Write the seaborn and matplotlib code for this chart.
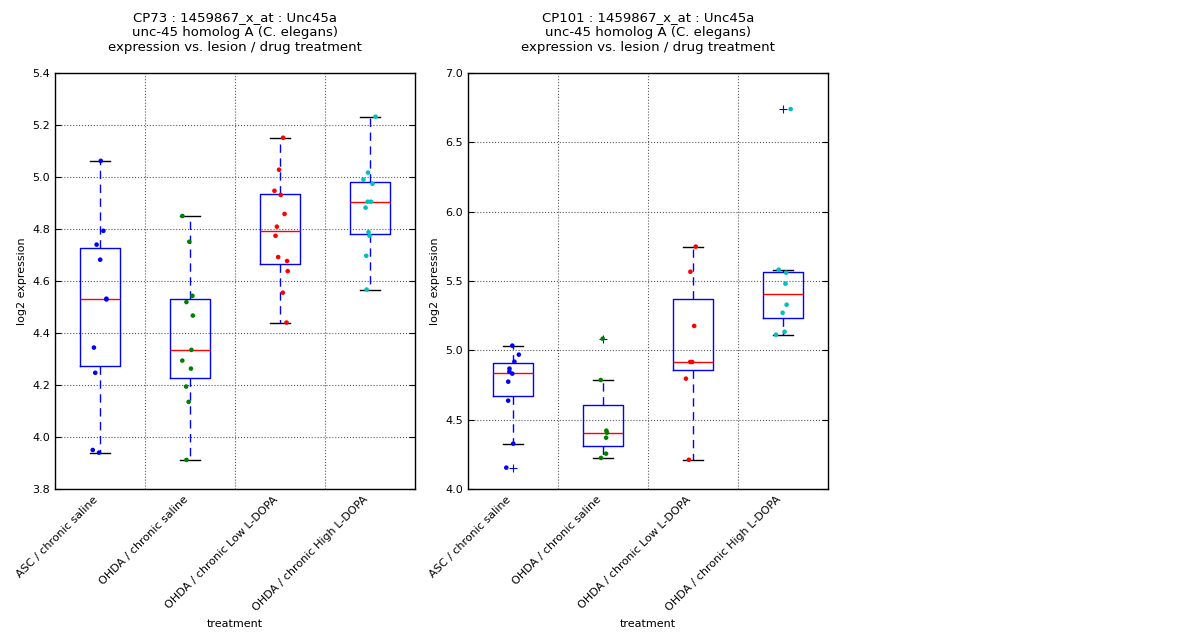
import numpy as np
import pandas as pd
import matplotlib
matplotlib.use('Agg')
import matplotlib.pyplot as plt
import seaborn as sns

GROUPS = ['ASC / chronic saline', 'OHDA / chronic saline',
          'OHDA / chronic Low L-DOPA', 'OHDA / chronic High L-DOPA']
COLORS = ['blue', 'green', 'red', (0.0, 0.75, 0.75)]

# CP73 values (log2 expression)
cp73_asc = [5.062, 4.793, 4.740, 4.682, 4.532, 4.529, 4.344, 4.247, 3.950, 3.940]
cp73_sal = [4.850, 4.751, 4.543, 4.519, 4.467, 4.335, 4.294, 4.263, 4.194, 4.135, 3.912]
cp73_low = [5.151, 5.028, 4.947, 4.931, 4.858, 4.809, 4.774, 4.692, 4.677, 4.638, 4.555, 4.440]
cp73_high = [5.232, 5.017, 4.990, 4.974, 4.905, 4.905, 4.882, 4.788, 4.774, 4.697, 4.567]

# CP101 values
cp101_asc = [5.034, 4.969, 4.918, 4.868, 4.846, 4.832, 4.774, 4.637, 4.327, 4.154]
cp101_sal = [5.084, 4.786, 4.421, 4.406, 4.370, 4.255, 4.224]
cp101_low = [5.748, 5.567, 5.176, 4.916, 4.916, 4.796, 4.211]
cp101_high = [6.740, 5.582, 5.560, 5.481, 5.329, 5.271, 5.134, 5.113]

PANELS = [
    ('CP73 : 1459867_x_at : Unc45a\nunc-45 homolog A (C. elegans)\n'
     'expression vs. lesion / drug treatment',
     [cp73_asc, cp73_sal, cp73_low, cp73_high],
     (3.8, 5.4), np.arange(3.8, 5.41, 0.2), '%.1f'),
    ('CP101 : 1459867_x_at : Unc45a\nunc-45 homolog A (C. elegans)\n'
     'expression vs. lesion / drug treatment',
     [cp101_asc, cp101_sal, cp101_low, cp101_high],
     (4.0, 7.0), np.arange(4.0, 7.01, 0.5), '%.1f'),
]


def to_frame(series):
    rows = []
    for grp, vals in zip(GROUPS, series):
        for v in vals:
            rows.append((grp, v))
    return pd.DataFrame(rows, columns=['treatment', 'log2 expression'])


np.random.seed(3)
fig = plt.figure(figsize=(12, 6.4), dpi=100)
lefts = [55 / 1200, 468 / 1200]

for left, (title, series, ylim, yticks, fmt) in zip(lefts, PANELS):
    ax = fig.add_axes([left, 1 - 489 / 640, 360 / 1200, 416 / 640])
    df = to_frame(series)

    sns.boxplot(data=df, x='treatment', y='log2 expression', order=GROUPS,
                ax=ax, fill=False, width=0.45, color='blue', linecolor='blue',
                linewidth=1, whis=1.5,
                boxprops={'color': 'blue', 'linewidth': 1},
                medianprops={'color': 'red', 'linewidth': 1},
                whiskerprops={'color': 'blue', 'linestyle': (0, (6, 4)),
                              'linewidth': 1},
                capprops={'color': 'black', 'linewidth': 1},
                flierprops={'marker': '+', 'color': 'blue',
                            'markeredgecolor': 'blue',
                            'markerfacecolor': 'none', 'markersize': 6,
                            'markeredgewidth': 0.8})
    sns.stripplot(data=df, x='treatment', y='log2 expression', order=GROUPS,
                  hue='treatment', hue_order=GROUPS, palette=COLORS,
                  jitter=0.09, size=3.3, linewidth=0, legend=False, ax=ax)

    ax.set_xlim(-0.5, 3.5)
    ax.set_ylim(*ylim)
    ax.set_yticks(yticks)
    ax.set_yticklabels([fmt % t for t in yticks], fontsize=8)
    ax.set_xticks(range(len(GROUPS)))
    ax.set_xticklabels(GROUPS, rotation=45, ha='right', fontsize=8)
    ax.set_xticks([0.5, 1.5, 2.5], minor=True)
    ax.tick_params(axis='x', which='both', length=0, pad=4)
    ax.tick_params(axis='y', direction='in', length=4, right=True, width=0.8)

    ax.grid(False)
    ax.grid(which='minor', axis='x', color='0.35', linestyle=':', linewidth=0.8)
    ax.grid(which='major', axis='y', color='0.35', linestyle=':', linewidth=0.8)
    ax.set_axisbelow(True)

    for sp in ax.spines.values():
        sp.set_visible(True)
        sp.set_color('black')
        sp.set_linewidth(1)

    ax.set_title(title, fontsize=9.5, pad=16)
    ax.set_xlabel('treatment', fontsize=8)
    ax.set_ylabel('log2 expression', fontsize=8)

fig.savefig('out.png', dpi=100, facecolor='white')
